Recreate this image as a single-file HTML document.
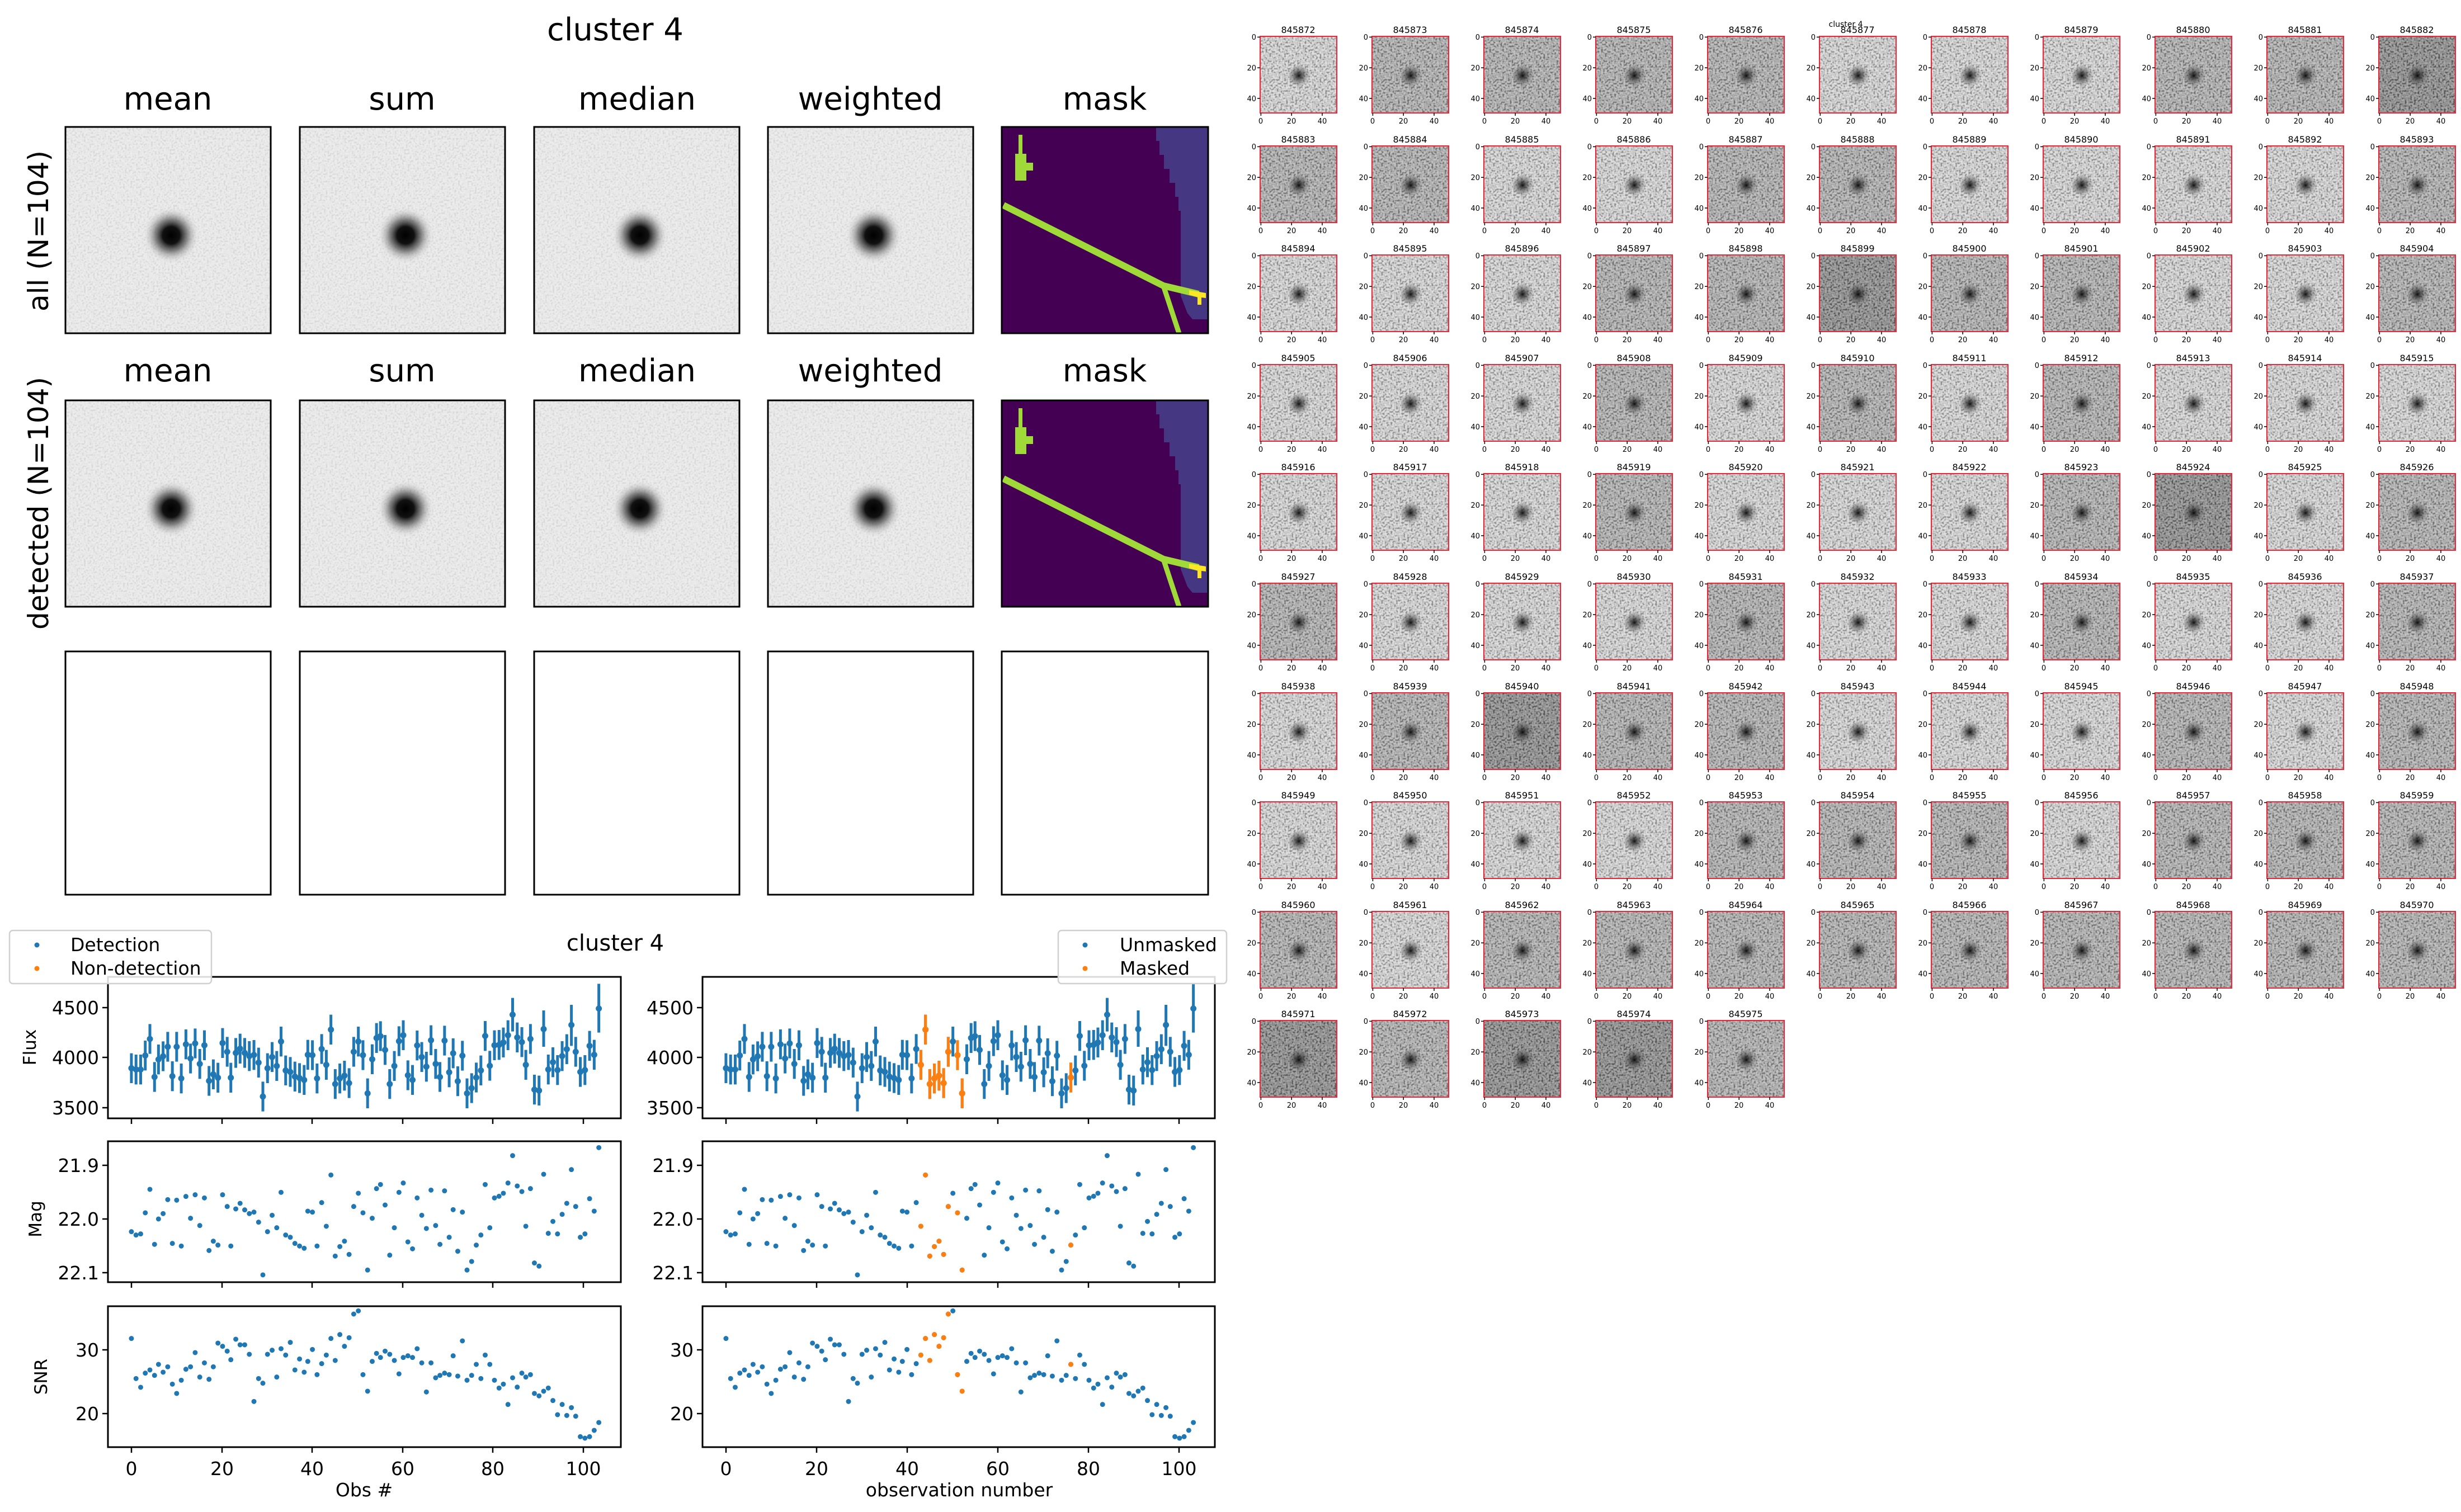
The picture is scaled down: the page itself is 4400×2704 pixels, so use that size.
<!DOCTYPE html>
<html><head><meta charset="utf-8"><style>
html,body{margin:0;padding:0;background:#fff}
svg{display:block}
text{font-family:"DejaVu Sans","Liberation Sans",sans-serif;fill:#000}
.a{font-size:16px;text-anchor:middle}
.b{font-size:13px;text-anchor:end}
.c{font-size:13px;text-anchor:middle}
.L{fill:#d2d2d2}.M{fill:#a6a6a6}.D{fill:#7e7e7e}
.tk{font-size:33px}
.ty{font-size:33px;text-anchor:end}
.tx{font-size:33px;text-anchor:middle}
.pt{font-size:56px;text-anchor:middle}
</style></head><body>
<svg width="4400" height="2704" viewBox="0 0 4400 2704" xmlns="http://www.w3.org/2000/svg">
<defs>
<filter id="nz" x="0" y="0" width="100%" height="100%">
<feTurbulence type="fractalNoise" baseFrequency="0.3" numOctaves="1" seed="4"/>
<feComponentTransfer><feFuncR type="linear" slope="3" intercept="-1"/></feComponentTransfer>
<feColorMatrix type="matrix" values="1 0 0 0 0 1 0 0 0 0 1 0 0 0 0 0 0 0 0 1"/>
</filter>
<radialGradient id="bl"><stop offset="0" stop-color="#000" stop-opacity=".9"/><stop offset=".4" stop-color="#222" stop-opacity=".55"/><stop offset="1" stop-color="#555" stop-opacity="0"/></radialGradient>
<radialGradient id="bb" cx=".515" cy=".525" r=".14"><stop offset="0" stop-color="#000"/><stop offset=".3" stop-color="#111"/><stop offset=".55" stop-color="#555" stop-opacity=".7"/><stop offset=".8" stop-color="#aaa" stop-opacity=".3"/><stop offset="1" stop-color="#eee" stop-opacity="0"/></radialGradient>
<g id="th"><rect width="137" height="137" filter="url(#nz)" opacity=".33"/><circle cx="69" cy="70" r="20" fill="url(#bl)"/><rect width="137" height="137" fill="none" stroke="#e8283a" stroke-width="2"/><path d="M1.4 137v5M56.2 137v5M111 137v5M0 1.4h-5M0 56.2h-5M0 111h-5" stroke="#000" stroke-width="1.5"/></g>
<g id="big"><rect width="367" height="369" fill="#ececec"/><rect width="367" height="369" filter="url(#nz)" opacity=".08"/><rect width="367" height="369" fill="url(#bb)"/><rect width="367" height="369" fill="none" stroke="#000" stroke-width="3"/></g>
<g id="mask"><rect width="369" height="369" fill="#440154"/>
<polygon points="272,0 369,0 369,344 341,344 332,333 320,302 320,150 316,150 316,125 310,125 310,100 300,100 300,75 290,75 290,50 282,50 282,25 276,25 276,0" fill="#453781"/>
<rect x="30" y="14" width="7" height="35" fill="#a0da39"/><rect x="24" y="48" width="20" height="48" fill="#a0da39"/><rect x="42" y="64" width="14" height="14" fill="#a0da39"/>
<polyline points="3,140 289,284 352,299" fill="none" stroke="#a0da39" stroke-width="12"/>
<polyline points="289,284 317,369" fill="none" stroke="#a0da39" stroke-width="9"/>
<polygon points="335,292 365,297 365,306 357,305 357,318 350,318 350,304 335,300" fill="#fde725"/>
<rect width="369" height="369" fill="none" stroke="#000" stroke-width="3"/></g>
<g id="fluxd">
<path fill="none" stroke="#1f77b4" stroke-width="5" vector-effect="non-scaling-stroke" d="M71 410v160M85 417v160M99 417v160M113 342v160M127 253v160M141 457v160M153 363v160M167 346v160M181 295v160M195 453v160M208 295v160M222 465v160M236 282v160M250 358v160M264 277v160M278 387v160M292 287v160M306 478v160M319 443v160M333 461v160M347 275v160M361 322v160M372 461v160M387 328v160M400 305v160M414 328v160M428 345v160M442 339v160M456 380v160M469 562v160M483 410v160M497 350v160M511 398v160M524 267v160M538 422v160M552 430v160M566 455v160M580 463v160M594 473v160M605 338v160M619 340v160M633 465v160M647 307v160M661 392v160M675 203v160M688 495v160M702 465v160M716 450v160M730 490v160M744 322v160M758 267v160M772 340v160M786 545v160M800 362v160M813 248v160M825 238v160M839 312v160M853 495v160M867 398v160M881 265v160M894 233v160M908 448v160M922 473v160M936 288v160M950 350v160M964 402v160M978 260v160M992 387v160M1005 457v160M1019 262v160M1033 432v160M1045 330v160M1059 480v160M1073 343v160M1087 545v160M1101 517v160M1115 460v160M1129 422v160M1142 237v160M1156 397v160M1170 287v160M1184 285v160M1197 272v160M1211 233v160M1225 113v180M1239 245v160M1253 270v160M1265 392v160M1279 253v160M1291 525v160M1305 530v160M1319 180v195M1333 417v160M1347 378v160M1361 420v160M1375 345v160M1389 308v160M1403 150v220M1416 322v160M1430 430v160M1444 420v160M1458 290v160M1472 338v160M1486 37v262"/>
<path fill="none" stroke="#1f77b4" stroke-width="11" stroke-linecap="round" vector-effect="non-scaling-stroke" d="M71 490h0M85 497h0M99 497h0M113 422h0M127 333h0M141 537h0M153 443h0M167 426h0M181 375h0M195 533h0M208 375h0M222 545h0M236 362h0M250 438h0M264 357h0M278 467h0M292 367h0M306 558h0M319 523h0M333 541h0M347 355h0M361 402h0M372 541h0M387 408h0M400 385h0M414 408h0M428 425h0M442 419h0M456 460h0M469 642h0M483 490h0M497 430h0M511 478h0M524 347h0M538 502h0M552 510h0M566 535h0M580 543h0M594 553h0M605 418h0M619 420h0M633 545h0M647 387h0M661 472h0M675 283h0M688 575h0M702 545h0M716 530h0M730 570h0M744 402h0M758 347h0M772 420h0M786 625h0M800 442h0M813 328h0M825 318h0M839 392h0M853 575h0M867 478h0M881 345h0M894 313h0M908 528h0M922 553h0M936 368h0M950 430h0M964 482h0M978 340h0M992 467h0M1005 537h0M1019 342h0M1033 512h0M1045 410h0M1059 560h0M1073 423h0M1087 625h0M1101 597h0M1115 540h0M1129 502h0M1142 317h0M1156 477h0M1170 367h0M1184 365h0M1197 352h0M1211 313h0M1225 203h0M1239 325h0M1253 350h0M1265 472h0M1279 333h0M1291 605h0M1305 610h0M1319 280h0M1333 497h0M1347 458h0M1361 500h0M1375 425h0M1389 388h0M1403 258h0M1416 402h0M1430 510h0M1444 500h0M1458 370h0M1472 418h0M1486 170h0"/>
</g>
<path id="magd" fill="none" stroke="#1f77b4" stroke-width="9" stroke-linecap="round" vector-effect="non-scaling-stroke" d="M71 488h0M85 506h0M99 500h0M113 387h0M127 261h0M141 556h0M153 420h0M167 391h0M181 316h0M195 551h0M208 319h0M222 565h0M236 299h0M250 416h0M264 290h0M278 455h0M292 307h0M306 589h0M319 539h0M333 560h0M347 290h0M361 353h0M372 565h0M387 366h0M400 336h0M414 371h0M428 391h0M442 383h0M456 437h0M469 720h0M483 488h0M497 400h0M511 467h0M524 277h0M538 506h0M552 518h0M566 551h0M580 565h0M594 577h0M605 378h0M619 383h0M633 565h0M647 332h0M661 459h0M675 184h0M688 619h0M702 568h0M716 539h0M730 610h0M744 353h0M758 282h0M772 387h0M786 694h0M800 416h0M813 257h0M825 235h0M839 345h0M853 614h0M867 467h0M881 277h0M894 227h0M908 543h0M922 580h0M936 307h0M950 400h0M964 471h0M978 265h0M992 455h0M1005 556h0M1019 269h0M1033 518h0M1045 370h0M1059 593h0M1073 383h0M1087 694h0M1101 648h0M1115 560h0M1129 506h0M1142 235h0M1156 467h0M1170 307h0M1184 298h0M1197 282h0M1211 227h0M1225 80h0M1239 243h0M1253 273h0M1265 459h0M1279 257h0M1291 656h0M1305 673h0M1319 180h0M1333 497h0M1347 433h0M1361 500h0M1375 395h0M1389 336h0M1403 155h0M1416 353h0M1430 518h0M1444 500h0M1458 311h0M1472 378h0M1486 37h0"/>
<path id="snrd" fill="none" stroke="#1f77b4" stroke-width="9" stroke-linecap="round" vector-effect="non-scaling-stroke" d="M71 176h0M85 391h0M99 438h0M113 362h0M127 345h0M141 374h0M153 315h0M167 357h0M181 328h0M195 421h0M208 471h0M222 400h0M236 341h0M250 328h0M264 252h0M278 383h0M292 307h0M306 395h0M319 328h0M333 201h0M347 218h0M361 244h0M372 290h0M387 180h0M400 210h0M414 210h0M428 261h0M442 514h0M456 391h0M469 416h0M483 261h0M497 239h0M511 383h0M524 231h0M538 265h0M552 197h0M566 345h0M580 286h0M594 357h0M605 299h0M619 235h0M633 370h0M647 311h0M661 265h0M675 176h0M688 294h0M702 155h0M716 218h0M730 172h0M744 45h0M758 28h0M772 370h0M786 459h0M800 299h0M813 256h0M825 278h0M839 244h0M853 261h0M867 294h0M881 366h0M894 278h0M908 269h0M922 278h0M936 231h0M950 307h0M964 463h0M978 307h0M992 387h0M1005 374h0M1019 362h0M1033 370h0M1045 269h0M1059 378h0M1073 189h0M1087 400h0M1101 374h0M1115 315h0M1129 391h0M1142 265h0M1156 315h0M1170 400h0M1184 442h0M1197 421h0M1211 530h0M1225 387h0M1239 437h0M1253 362h0M1265 383h0M1279 370h0M1291 471h0M1305 484h0M1319 459h0M1333 442h0M1347 509h0M1361 585h0M1375 530h0M1389 589h0M1403 547h0M1416 593h0M1430 703h0M1444 711h0M1458 703h0M1472 669h0M1486 627h0"/>
</defs>

<text x="1100" y="72" class="pt">cluster 4</text>
<text x="300" y="196" class="pt">mean</text><text x="719" y="196" class="pt">sum</text><text x="1139" y="196" class="pt">median</text><text x="1556" y="196" class="pt">weighted</text><text x="1975" y="196" class="pt">mask</text>
<text x="300" y="682" class="pt">mean</text><text x="719" y="682" class="pt">sum</text><text x="1139" y="682" class="pt">median</text><text x="1556" y="682" class="pt">weighted</text><text x="1975" y="682" class="pt">mask</text>
<text transform="translate(86,413) rotate(-90)" style="font-size:50px;text-anchor:middle">all (N=104)</text>
<text transform="translate(86,900) rotate(-90)" style="font-size:50px;text-anchor:middle">detected (N=104)</text>
<use href="#big" x="117" y="227"/><use href="#big" x="536" y="227"/><use href="#big" x="955" y="227"/><use href="#big" x="1373" y="227"/>
<use href="#mask" x="1791" y="227"/>
<use href="#big" x="117" y="716"/><use href="#big" x="536" y="716"/><use href="#big" x="955" y="716"/><use href="#big" x="1373" y="716"/>
<use href="#mask" x="1791" y="716"/>
<g fill="none" stroke="#000" stroke-width="3">
<rect x="117" y="1165" width="367" height="435"/><rect x="536" y="1165" width="367" height="435"/><rect x="955" y="1165" width="367" height="435"/><rect x="1373" y="1165" width="367" height="435"/><rect x="1791" y="1165" width="369" height="435"/>
</g>

<text x="1100" y="1700" style="font-size:40px;text-anchor:middle">cluster 4</text>
<g fill="#fff" stroke="#000" stroke-width="3">
<rect x="193" y="1747" width="917" height="253"/><rect x="193" y="2041" width="917" height="252"/><rect x="193" y="2336" width="917" height="252"/>
<rect x="1256" y="1747" width="916" height="253"/><rect x="1256" y="2041" width="916" height="252"/><rect x="1256" y="2336" width="916" height="252"/>
</g>
<g transform="translate(193,1747) scale(.5906,.3333)"><use href="#fluxd"/></g>
<g transform="translate(193,2040) scale(.5906,.3333)"><use href="#magd"/></g>
<g transform="translate(193,2335) scale(.5906,.3333)"><use href="#snrd"/></g>
<g transform="translate(1256,1747) scale(.5906,.3333)"><use href="#fluxd"/>
<path fill="none" stroke="#ff7f0e" stroke-width="5" vector-effect="non-scaling-stroke" d="M661 392v160M675 203v160M688 495v160M702 465v160M716 450v160M730 490v160M744 322v160M772 340v160M786 545v160M1115 460v160"/>
<path fill="none" stroke="#ff7f0e" stroke-width="11" stroke-linecap="round" vector-effect="non-scaling-stroke" d="M661 472h0M675 283h0M688 575h0M702 545h0M716 530h0M730 570h0M744 402h0M772 420h0M786 625h0M1115 540h0"/></g>
<g transform="translate(1256,2040) scale(.5906,.3333)"><use href="#magd"/>
<path fill="none" stroke="#ff7f0e" stroke-width="9" stroke-linecap="round" vector-effect="non-scaling-stroke" d="M661 459h0M675 184h0M688 619h0M702 568h0M716 539h0M730 610h0M744 353h0M772 387h0M786 694h0M1115 560h0"/></g>
<g transform="translate(1256,2335) scale(.5906,.3333)"><use href="#snrd"/>
<path fill="none" stroke="#ff7f0e" stroke-width="9" stroke-linecap="round" vector-effect="non-scaling-stroke" d="M661 265h0M675 176h0M688 294h0M702 155h0M716 218h0M730 172h0M744 45h0M772 370h0M786 459h0M1115 315h0"/></g>

<g stroke="#000" stroke-width="2.5">
<path d="M193 1802h-10M193 1891h-10M193 1981h-10M193 2084h-10M193 2180h-10M193 2276h-10M193 2414h-10M193 2528h-10"/>
<path d="M1256 1802h-10M1256 1891h-10M1256 1981h-10M1256 2084h-10M1256 2180h-10M1256 2276h-10M1256 2414h-10M1256 2528h-10"/>
<path d="M235 2000v10M397 2000v10M558 2000v10M720 2000v10M881 2000v10M1043 2000v10M235 2293v10M397 2293v10M558 2293v10M720 2293v10M881 2293v10M1043 2293v10M235 2588v10M397 2588v10M558 2588v10M720 2588v10M881 2588v10M1043 2588v10"/>
<path d="M1298 2000v10M1460 2000v10M1622 2000v10M1784 2000v10M1946 2000v10M2108 2000v10M1298 2293v10M1460 2293v10M1622 2293v10M1784 2293v10M1946 2293v10M2108 2293v10M1298 2588v10M1460 2588v10M1622 2588v10M1784 2588v10M1946 2588v10M2108 2588v10"/>
</g>
<text class="ty" x="177" y="1814">4500</text><text class="ty" x="177" y="1903">4000</text><text class="ty" x="177" y="1993">3500</text>
<text class="ty" x="177" y="2096">21.9</text><text class="ty" x="177" y="2192">22.0</text><text class="ty" x="177" y="2288">22.1</text>
<text class="ty" x="177" y="2426">30</text><text class="ty" x="177" y="2540">20</text>
<text class="ty" x="1240" y="1814">4500</text><text class="ty" x="1240" y="1903">4000</text><text class="ty" x="1240" y="1993">3500</text>
<text class="ty" x="1240" y="2096">21.9</text><text class="ty" x="1240" y="2192">22.0</text><text class="ty" x="1240" y="2288">22.1</text>
<text class="ty" x="1240" y="2426">30</text><text class="ty" x="1240" y="2540">20</text>
<text class="tx" x="235" y="2638">0</text><text class="tx" x="397" y="2638">20</text><text class="tx" x="558" y="2638">40</text><text class="tx" x="720" y="2638">60</text><text class="tx" x="881" y="2638">80</text><text class="tx" x="1043" y="2638">100</text>
<text class="tx" x="1298" y="2638">0</text><text class="tx" x="1460" y="2638">20</text><text class="tx" x="1622" y="2638">40</text><text class="tx" x="1784" y="2638">60</text><text class="tx" x="1946" y="2638">80</text><text class="tx" x="2108" y="2638">100</text>
<text class="tx" x="651" y="2676">Obs #</text><text class="tx" x="1715" y="2676">observation number</text>
<text transform="translate(64,1873) rotate(-90)" style="font-size:31px;text-anchor:middle">Flux</text>
<text transform="translate(74,2180) rotate(-90)" style="font-size:31px;text-anchor:middle">Mag</text>
<text transform="translate(84,2462) rotate(-90)" style="font-size:31px;text-anchor:middle">SNR</text>

<rect x="17" y="1664" width="361" height="95" rx="6" fill="#fff" fill-opacity=".85" stroke="#d0d0d0" stroke-width="2.5"/>
<circle cx="66" cy="1690" r="4.5" fill="#1f77b4"/><circle cx="66" cy="1732" r="4.5" fill="#ff7f0e"/>
<text class="tk" x="126" y="1701">Detection</text><text class="tk" x="126" y="1743">Non-detection</text>
<rect x="1892" y="1664" width="301" height="95" rx="6" fill="#fff" fill-opacity=".85" stroke="#d0d0d0" stroke-width="2.5"/>
<circle cx="1940" cy="1690" r="4.5" fill="#1f77b4"/><circle cx="1940" cy="1732" r="4.5" fill="#ff7f0e"/>
<text class="tk" x="2002" y="1701">Unmasked</text><text class="tk" x="2002" y="1743">Masked</text>

<text x="3300" y="48" style="font-size:14px;text-anchor:middle">cluster 4</text>
<g transform="translate(2253,65)"><rect width="137" height="137" class="L"/><use href="#th"/><text class="a" x="68" y="-6">845872</text><text class="b" x="-7" y="6">0</text><text class="b" x="-7" y="61">20</text><text class="b" x="-7" y="116">40</text><text class="c" x="1" y="156">0</text><text class="c" x="56" y="156">20</text><text class="c" x="111" y="156">40</text></g>
<g transform="translate(2453,65)"><rect width="137" height="137" class="M"/><use href="#th"/><text class="a" x="68" y="-6">845873</text><text class="b" x="-7" y="6">0</text><text class="b" x="-7" y="61">20</text><text class="b" x="-7" y="116">40</text><text class="c" x="1" y="156">0</text><text class="c" x="56" y="156">20</text><text class="c" x="111" y="156">40</text></g>
<g transform="translate(2653,65)"><rect width="137" height="137" class="M"/><use href="#th"/><text class="a" x="68" y="-6">845874</text><text class="b" x="-7" y="6">0</text><text class="b" x="-7" y="61">20</text><text class="b" x="-7" y="116">40</text><text class="c" x="1" y="156">0</text><text class="c" x="56" y="156">20</text><text class="c" x="111" y="156">40</text></g>
<g transform="translate(2853,65)"><rect width="137" height="137" class="M"/><use href="#th"/><text class="a" x="68" y="-6">845875</text><text class="b" x="-7" y="6">0</text><text class="b" x="-7" y="61">20</text><text class="b" x="-7" y="116">40</text><text class="c" x="1" y="156">0</text><text class="c" x="56" y="156">20</text><text class="c" x="111" y="156">40</text></g>
<g transform="translate(3053,65)"><rect width="137" height="137" class="M"/><use href="#th"/><text class="a" x="68" y="-6">845876</text><text class="b" x="-7" y="6">0</text><text class="b" x="-7" y="61">20</text><text class="b" x="-7" y="116">40</text><text class="c" x="1" y="156">0</text><text class="c" x="56" y="156">20</text><text class="c" x="111" y="156">40</text></g>
<g transform="translate(3253,65)"><rect width="137" height="137" class="L"/><use href="#th"/><text class="a" x="68" y="-6">845877</text><text class="b" x="-7" y="6">0</text><text class="b" x="-7" y="61">20</text><text class="b" x="-7" y="116">40</text><text class="c" x="1" y="156">0</text><text class="c" x="56" y="156">20</text><text class="c" x="111" y="156">40</text></g>
<g transform="translate(3453,65)"><rect width="137" height="137" class="L"/><use href="#th"/><text class="a" x="68" y="-6">845878</text><text class="b" x="-7" y="6">0</text><text class="b" x="-7" y="61">20</text><text class="b" x="-7" y="116">40</text><text class="c" x="1" y="156">0</text><text class="c" x="56" y="156">20</text><text class="c" x="111" y="156">40</text></g>
<g transform="translate(3653,65)"><rect width="137" height="137" class="L"/><use href="#th"/><text class="a" x="68" y="-6">845879</text><text class="b" x="-7" y="6">0</text><text class="b" x="-7" y="61">20</text><text class="b" x="-7" y="116">40</text><text class="c" x="1" y="156">0</text><text class="c" x="56" y="156">20</text><text class="c" x="111" y="156">40</text></g>
<g transform="translate(3853,65)"><rect width="137" height="137" class="M"/><use href="#th"/><text class="a" x="68" y="-6">845880</text><text class="b" x="-7" y="6">0</text><text class="b" x="-7" y="61">20</text><text class="b" x="-7" y="116">40</text><text class="c" x="1" y="156">0</text><text class="c" x="56" y="156">20</text><text class="c" x="111" y="156">40</text></g>
<g transform="translate(4053,65)"><rect width="137" height="137" class="M"/><use href="#th"/><text class="a" x="68" y="-6">845881</text><text class="b" x="-7" y="6">0</text><text class="b" x="-7" y="61">20</text><text class="b" x="-7" y="116">40</text><text class="c" x="1" y="156">0</text><text class="c" x="56" y="156">20</text><text class="c" x="111" y="156">40</text></g>
<g transform="translate(4253,65)"><rect width="137" height="137" class="D"/><use href="#th"/><text class="a" x="68" y="-6">845882</text><text class="b" x="-7" y="6">0</text><text class="b" x="-7" y="61">20</text><text class="b" x="-7" y="116">40</text><text class="c" x="1" y="156">0</text><text class="c" x="56" y="156">20</text><text class="c" x="111" y="156">40</text></g>

<g transform="translate(2253,261)"><rect width="137" height="137" class="M"/><use href="#th"/><text class="a" x="68" y="-6">845883</text><text class="b" x="-7" y="6">0</text><text class="b" x="-7" y="61">20</text><text class="b" x="-7" y="116">40</text><text class="c" x="1" y="156">0</text><text class="c" x="56" y="156">20</text><text class="c" x="111" y="156">40</text></g>
<g transform="translate(2453,261)"><rect width="137" height="137" class="M"/><use href="#th"/><text class="a" x="68" y="-6">845884</text><text class="b" x="-7" y="6">0</text><text class="b" x="-7" y="61">20</text><text class="b" x="-7" y="116">40</text><text class="c" x="1" y="156">0</text><text class="c" x="56" y="156">20</text><text class="c" x="111" y="156">40</text></g>
<g transform="translate(2653,261)"><rect width="137" height="137" class="L"/><use href="#th"/><text class="a" x="68" y="-6">845885</text><text class="b" x="-7" y="6">0</text><text class="b" x="-7" y="61">20</text><text class="b" x="-7" y="116">40</text><text class="c" x="1" y="156">0</text><text class="c" x="56" y="156">20</text><text class="c" x="111" y="156">40</text></g>
<g transform="translate(2853,261)"><rect width="137" height="137" class="L"/><use href="#th"/><text class="a" x="68" y="-6">845886</text><text class="b" x="-7" y="6">0</text><text class="b" x="-7" y="61">20</text><text class="b" x="-7" y="116">40</text><text class="c" x="1" y="156">0</text><text class="c" x="56" y="156">20</text><text class="c" x="111" y="156">40</text></g>
<g transform="translate(3053,261)"><rect width="137" height="137" class="M"/><use href="#th"/><text class="a" x="68" y="-6">845887</text><text class="b" x="-7" y="6">0</text><text class="b" x="-7" y="61">20</text><text class="b" x="-7" y="116">40</text><text class="c" x="1" y="156">0</text><text class="c" x="56" y="156">20</text><text class="c" x="111" y="156">40</text></g>
<g transform="translate(3253,261)"><rect width="137" height="137" class="M"/><use href="#th"/><text class="a" x="68" y="-6">845888</text><text class="b" x="-7" y="6">0</text><text class="b" x="-7" y="61">20</text><text class="b" x="-7" y="116">40</text><text class="c" x="1" y="156">0</text><text class="c" x="56" y="156">20</text><text class="c" x="111" y="156">40</text></g>
<g transform="translate(3453,261)"><rect width="137" height="137" class="L"/><use href="#th"/><text class="a" x="68" y="-6">845889</text><text class="b" x="-7" y="6">0</text><text class="b" x="-7" y="61">20</text><text class="b" x="-7" y="116">40</text><text class="c" x="1" y="156">0</text><text class="c" x="56" y="156">20</text><text class="c" x="111" y="156">40</text></g>
<g transform="translate(3653,261)"><rect width="137" height="137" class="L"/><use href="#th"/><text class="a" x="68" y="-6">845890</text><text class="b" x="-7" y="6">0</text><text class="b" x="-7" y="61">20</text><text class="b" x="-7" y="116">40</text><text class="c" x="1" y="156">0</text><text class="c" x="56" y="156">20</text><text class="c" x="111" y="156">40</text></g>
<g transform="translate(3853,261)"><rect width="137" height="137" class="L"/><use href="#th"/><text class="a" x="68" y="-6">845891</text><text class="b" x="-7" y="6">0</text><text class="b" x="-7" y="61">20</text><text class="b" x="-7" y="116">40</text><text class="c" x="1" y="156">0</text><text class="c" x="56" y="156">20</text><text class="c" x="111" y="156">40</text></g>
<g transform="translate(4053,261)"><rect width="137" height="137" class="L"/><use href="#th"/><text class="a" x="68" y="-6">845892</text><text class="b" x="-7" y="6">0</text><text class="b" x="-7" y="61">20</text><text class="b" x="-7" y="116">40</text><text class="c" x="1" y="156">0</text><text class="c" x="56" y="156">20</text><text class="c" x="111" y="156">40</text></g>
<g transform="translate(4253,261)"><rect width="137" height="137" class="M"/><use href="#th"/><text class="a" x="68" y="-6">845893</text><text class="b" x="-7" y="6">0</text><text class="b" x="-7" y="61">20</text><text class="b" x="-7" y="116">40</text><text class="c" x="1" y="156">0</text><text class="c" x="56" y="156">20</text><text class="c" x="111" y="156">40</text></g>

<g transform="translate(2253,456)"><rect width="137" height="137" class="L"/><use href="#th"/><text class="a" x="68" y="-6">845894</text><text class="b" x="-7" y="6">0</text><text class="b" x="-7" y="61">20</text><text class="b" x="-7" y="116">40</text><text class="c" x="1" y="156">0</text><text class="c" x="56" y="156">20</text><text class="c" x="111" y="156">40</text></g>
<g transform="translate(2453,456)"><rect width="137" height="137" class="L"/><use href="#th"/><text class="a" x="68" y="-6">845895</text><text class="b" x="-7" y="6">0</text><text class="b" x="-7" y="61">20</text><text class="b" x="-7" y="116">40</text><text class="c" x="1" y="156">0</text><text class="c" x="56" y="156">20</text><text class="c" x="111" y="156">40</text></g>
<g transform="translate(2653,456)"><rect width="137" height="137" class="L"/><use href="#th"/><text class="a" x="68" y="-6">845896</text><text class="b" x="-7" y="6">0</text><text class="b" x="-7" y="61">20</text><text class="b" x="-7" y="116">40</text><text class="c" x="1" y="156">0</text><text class="c" x="56" y="156">20</text><text class="c" x="111" y="156">40</text></g>
<g transform="translate(2853,456)"><rect width="137" height="137" class="M"/><use href="#th"/><text class="a" x="68" y="-6">845897</text><text class="b" x="-7" y="6">0</text><text class="b" x="-7" y="61">20</text><text class="b" x="-7" y="116">40</text><text class="c" x="1" y="156">0</text><text class="c" x="56" y="156">20</text><text class="c" x="111" y="156">40</text></g>
<g transform="translate(3053,456)"><rect width="137" height="137" class="M"/><use href="#th"/><text class="a" x="68" y="-6">845898</text><text class="b" x="-7" y="6">0</text><text class="b" x="-7" y="61">20</text><text class="b" x="-7" y="116">40</text><text class="c" x="1" y="156">0</text><text class="c" x="56" y="156">20</text><text class="c" x="111" y="156">40</text></g>
<g transform="translate(3253,456)"><rect width="137" height="137" class="D"/><use href="#th"/><text class="a" x="68" y="-6">845899</text><text class="b" x="-7" y="6">0</text><text class="b" x="-7" y="61">20</text><text class="b" x="-7" y="116">40</text><text class="c" x="1" y="156">0</text><text class="c" x="56" y="156">20</text><text class="c" x="111" y="156">40</text></g>
<g transform="translate(3453,456)"><rect width="137" height="137" class="M"/><use href="#th"/><text class="a" x="68" y="-6">845900</text><text class="b" x="-7" y="6">0</text><text class="b" x="-7" y="61">20</text><text class="b" x="-7" y="116">40</text><text class="c" x="1" y="156">0</text><text class="c" x="56" y="156">20</text><text class="c" x="111" y="156">40</text></g>
<g transform="translate(3653,456)"><rect width="137" height="137" class="M"/><use href="#th"/><text class="a" x="68" y="-6">845901</text><text class="b" x="-7" y="6">0</text><text class="b" x="-7" y="61">20</text><text class="b" x="-7" y="116">40</text><text class="c" x="1" y="156">0</text><text class="c" x="56" y="156">20</text><text class="c" x="111" y="156">40</text></g>
<g transform="translate(3853,456)"><rect width="137" height="137" class="L"/><use href="#th"/><text class="a" x="68" y="-6">845902</text><text class="b" x="-7" y="6">0</text><text class="b" x="-7" y="61">20</text><text class="b" x="-7" y="116">40</text><text class="c" x="1" y="156">0</text><text class="c" x="56" y="156">20</text><text class="c" x="111" y="156">40</text></g>
<g transform="translate(4053,456)"><rect width="137" height="137" class="L"/><use href="#th"/><text class="a" x="68" y="-6">845903</text><text class="b" x="-7" y="6">0</text><text class="b" x="-7" y="61">20</text><text class="b" x="-7" y="116">40</text><text class="c" x="1" y="156">0</text><text class="c" x="56" y="156">20</text><text class="c" x="111" y="156">40</text></g>
<g transform="translate(4253,456)"><rect width="137" height="137" class="M"/><use href="#th"/><text class="a" x="68" y="-6">845904</text><text class="b" x="-7" y="6">0</text><text class="b" x="-7" y="61">20</text><text class="b" x="-7" y="116">40</text><text class="c" x="1" y="156">0</text><text class="c" x="56" y="156">20</text><text class="c" x="111" y="156">40</text></g>

<g transform="translate(2253,652)"><rect width="137" height="137" class="L"/><use href="#th"/><text class="a" x="68" y="-6">845905</text><text class="b" x="-7" y="6">0</text><text class="b" x="-7" y="61">20</text><text class="b" x="-7" y="116">40</text><text class="c" x="1" y="156">0</text><text class="c" x="56" y="156">20</text><text class="c" x="111" y="156">40</text></g>
<g transform="translate(2453,652)"><rect width="137" height="137" class="L"/><use href="#th"/><text class="a" x="68" y="-6">845906</text><text class="b" x="-7" y="6">0</text><text class="b" x="-7" y="61">20</text><text class="b" x="-7" y="116">40</text><text class="c" x="1" y="156">0</text><text class="c" x="56" y="156">20</text><text class="c" x="111" y="156">40</text></g>
<g transform="translate(2653,652)"><rect width="137" height="137" class="L"/><use href="#th"/><text class="a" x="68" y="-6">845907</text><text class="b" x="-7" y="6">0</text><text class="b" x="-7" y="61">20</text><text class="b" x="-7" y="116">40</text><text class="c" x="1" y="156">0</text><text class="c" x="56" y="156">20</text><text class="c" x="111" y="156">40</text></g>
<g transform="translate(2853,652)"><rect width="137" height="137" class="M"/><use href="#th"/><text class="a" x="68" y="-6">845908</text><text class="b" x="-7" y="6">0</text><text class="b" x="-7" y="61">20</text><text class="b" x="-7" y="116">40</text><text class="c" x="1" y="156">0</text><text class="c" x="56" y="156">20</text><text class="c" x="111" y="156">40</text></g>
<g transform="translate(3053,652)"><rect width="137" height="137" class="L"/><use href="#th"/><text class="a" x="68" y="-6">845909</text><text class="b" x="-7" y="6">0</text><text class="b" x="-7" y="61">20</text><text class="b" x="-7" y="116">40</text><text class="c" x="1" y="156">0</text><text class="c" x="56" y="156">20</text><text class="c" x="111" y="156">40</text></g>
<g transform="translate(3253,652)"><rect width="137" height="137" class="M"/><use href="#th"/><text class="a" x="68" y="-6">845910</text><text class="b" x="-7" y="6">0</text><text class="b" x="-7" y="61">20</text><text class="b" x="-7" y="116">40</text><text class="c" x="1" y="156">0</text><text class="c" x="56" y="156">20</text><text class="c" x="111" y="156">40</text></g>
<g transform="translate(3453,652)"><rect width="137" height="137" class="L"/><use href="#th"/><text class="a" x="68" y="-6">845911</text><text class="b" x="-7" y="6">0</text><text class="b" x="-7" y="61">20</text><text class="b" x="-7" y="116">40</text><text class="c" x="1" y="156">0</text><text class="c" x="56" y="156">20</text><text class="c" x="111" y="156">40</text></g>
<g transform="translate(3653,652)"><rect width="137" height="137" class="M"/><use href="#th"/><text class="a" x="68" y="-6">845912</text><text class="b" x="-7" y="6">0</text><text class="b" x="-7" y="61">20</text><text class="b" x="-7" y="116">40</text><text class="c" x="1" y="156">0</text><text class="c" x="56" y="156">20</text><text class="c" x="111" y="156">40</text></g>
<g transform="translate(3853,652)"><rect width="137" height="137" class="L"/><use href="#th"/><text class="a" x="68" y="-6">845913</text><text class="b" x="-7" y="6">0</text><text class="b" x="-7" y="61">20</text><text class="b" x="-7" y="116">40</text><text class="c" x="1" y="156">0</text><text class="c" x="56" y="156">20</text><text class="c" x="111" y="156">40</text></g>
<g transform="translate(4053,652)"><rect width="137" height="137" class="L"/><use href="#th"/><text class="a" x="68" y="-6">845914</text><text class="b" x="-7" y="6">0</text><text class="b" x="-7" y="61">20</text><text class="b" x="-7" y="116">40</text><text class="c" x="1" y="156">0</text><text class="c" x="56" y="156">20</text><text class="c" x="111" y="156">40</text></g>
<g transform="translate(4253,652)"><rect width="137" height="137" class="L"/><use href="#th"/><text class="a" x="68" y="-6">845915</text><text class="b" x="-7" y="6">0</text><text class="b" x="-7" y="61">20</text><text class="b" x="-7" y="116">40</text><text class="c" x="1" y="156">0</text><text class="c" x="56" y="156">20</text><text class="c" x="111" y="156">40</text></g>

<g transform="translate(2253,847)"><rect width="137" height="137" class="L"/><use href="#th"/><text class="a" x="68" y="-6">845916</text><text class="b" x="-7" y="6">0</text><text class="b" x="-7" y="61">20</text><text class="b" x="-7" y="116">40</text><text class="c" x="1" y="156">0</text><text class="c" x="56" y="156">20</text><text class="c" x="111" y="156">40</text></g>
<g transform="translate(2453,847)"><rect width="137" height="137" class="L"/><use href="#th"/><text class="a" x="68" y="-6">845917</text><text class="b" x="-7" y="6">0</text><text class="b" x="-7" y="61">20</text><text class="b" x="-7" y="116">40</text><text class="c" x="1" y="156">0</text><text class="c" x="56" y="156">20</text><text class="c" x="111" y="156">40</text></g>
<g transform="translate(2653,847)"><rect width="137" height="137" class="L"/><use href="#th"/><text class="a" x="68" y="-6">845918</text><text class="b" x="-7" y="6">0</text><text class="b" x="-7" y="61">20</text><text class="b" x="-7" y="116">40</text><text class="c" x="1" y="156">0</text><text class="c" x="56" y="156">20</text><text class="c" x="111" y="156">40</text></g>
<g transform="translate(2853,847)"><rect width="137" height="137" class="M"/><use href="#th"/><text class="a" x="68" y="-6">845919</text><text class="b" x="-7" y="6">0</text><text class="b" x="-7" y="61">20</text><text class="b" x="-7" y="116">40</text><text class="c" x="1" y="156">0</text><text class="c" x="56" y="156">20</text><text class="c" x="111" y="156">40</text></g>
<g transform="translate(3053,847)"><rect width="137" height="137" class="L"/><use href="#th"/><text class="a" x="68" y="-6">845920</text><text class="b" x="-7" y="6">0</text><text class="b" x="-7" y="61">20</text><text class="b" x="-7" y="116">40</text><text class="c" x="1" y="156">0</text><text class="c" x="56" y="156">20</text><text class="c" x="111" y="156">40</text></g>
<g transform="translate(3253,847)"><rect width="137" height="137" class="L"/><use href="#th"/><text class="a" x="68" y="-6">845921</text><text class="b" x="-7" y="6">0</text><text class="b" x="-7" y="61">20</text><text class="b" x="-7" y="116">40</text><text class="c" x="1" y="156">0</text><text class="c" x="56" y="156">20</text><text class="c" x="111" y="156">40</text></g>
<g transform="translate(3453,847)"><rect width="137" height="137" class="L"/><use href="#th"/><text class="a" x="68" y="-6">845922</text><text class="b" x="-7" y="6">0</text><text class="b" x="-7" y="61">20</text><text class="b" x="-7" y="116">40</text><text class="c" x="1" y="156">0</text><text class="c" x="56" y="156">20</text><text class="c" x="111" y="156">40</text></g>
<g transform="translate(3653,847)"><rect width="137" height="137" class="M"/><use href="#th"/><text class="a" x="68" y="-6">845923</text><text class="b" x="-7" y="6">0</text><text class="b" x="-7" y="61">20</text><text class="b" x="-7" y="116">40</text><text class="c" x="1" y="156">0</text><text class="c" x="56" y="156">20</text><text class="c" x="111" y="156">40</text></g>
<g transform="translate(3853,847)"><rect width="137" height="137" class="D"/><use href="#th"/><text class="a" x="68" y="-6">845924</text><text class="b" x="-7" y="6">0</text><text class="b" x="-7" y="61">20</text><text class="b" x="-7" y="116">40</text><text class="c" x="1" y="156">0</text><text class="c" x="56" y="156">20</text><text class="c" x="111" y="156">40</text></g>
<g transform="translate(4053,847)"><rect width="137" height="137" class="L"/><use href="#th"/><text class="a" x="68" y="-6">845925</text><text class="b" x="-7" y="6">0</text><text class="b" x="-7" y="61">20</text><text class="b" x="-7" y="116">40</text><text class="c" x="1" y="156">0</text><text class="c" x="56" y="156">20</text><text class="c" x="111" y="156">40</text></g>
<g transform="translate(4253,847)"><rect width="137" height="137" class="M"/><use href="#th"/><text class="a" x="68" y="-6">845926</text><text class="b" x="-7" y="6">0</text><text class="b" x="-7" y="61">20</text><text class="b" x="-7" y="116">40</text><text class="c" x="1" y="156">0</text><text class="c" x="56" y="156">20</text><text class="c" x="111" y="156">40</text></g>

<g transform="translate(2253,1043)"><rect width="137" height="137" class="M"/><use href="#th"/><text class="a" x="68" y="-6">845927</text><text class="b" x="-7" y="6">0</text><text class="b" x="-7" y="61">20</text><text class="b" x="-7" y="116">40</text><text class="c" x="1" y="156">0</text><text class="c" x="56" y="156">20</text><text class="c" x="111" y="156">40</text></g>
<g transform="translate(2453,1043)"><rect width="137" height="137" class="L"/><use href="#th"/><text class="a" x="68" y="-6">845928</text><text class="b" x="-7" y="6">0</text><text class="b" x="-7" y="61">20</text><text class="b" x="-7" y="116">40</text><text class="c" x="1" y="156">0</text><text class="c" x="56" y="156">20</text><text class="c" x="111" y="156">40</text></g>
<g transform="translate(2653,1043)"><rect width="137" height="137" class="L"/><use href="#th"/><text class="a" x="68" y="-6">845929</text><text class="b" x="-7" y="6">0</text><text class="b" x="-7" y="61">20</text><text class="b" x="-7" y="116">40</text><text class="c" x="1" y="156">0</text><text class="c" x="56" y="156">20</text><text class="c" x="111" y="156">40</text></g>
<g transform="translate(2853,1043)"><rect width="137" height="137" class="L"/><use href="#th"/><text class="a" x="68" y="-6">845930</text><text class="b" x="-7" y="6">0</text><text class="b" x="-7" y="61">20</text><text class="b" x="-7" y="116">40</text><text class="c" x="1" y="156">0</text><text class="c" x="56" y="156">20</text><text class="c" x="111" y="156">40</text></g>
<g transform="translate(3053,1043)"><rect width="137" height="137" class="M"/><use href="#th"/><text class="a" x="68" y="-6">845931</text><text class="b" x="-7" y="6">0</text><text class="b" x="-7" y="61">20</text><text class="b" x="-7" y="116">40</text><text class="c" x="1" y="156">0</text><text class="c" x="56" y="156">20</text><text class="c" x="111" y="156">40</text></g>
<g transform="translate(3253,1043)"><rect width="137" height="137" class="L"/><use href="#th"/><text class="a" x="68" y="-6">845932</text><text class="b" x="-7" y="6">0</text><text class="b" x="-7" y="61">20</text><text class="b" x="-7" y="116">40</text><text class="c" x="1" y="156">0</text><text class="c" x="56" y="156">20</text><text class="c" x="111" y="156">40</text></g>
<g transform="translate(3453,1043)"><rect width="137" height="137" class="L"/><use href="#th"/><text class="a" x="68" y="-6">845933</text><text class="b" x="-7" y="6">0</text><text class="b" x="-7" y="61">20</text><text class="b" x="-7" y="116">40</text><text class="c" x="1" y="156">0</text><text class="c" x="56" y="156">20</text><text class="c" x="111" y="156">40</text></g>
<g transform="translate(3653,1043)"><rect width="137" height="137" class="M"/><use href="#th"/><text class="a" x="68" y="-6">845934</text><text class="b" x="-7" y="6">0</text><text class="b" x="-7" y="61">20</text><text class="b" x="-7" y="116">40</text><text class="c" x="1" y="156">0</text><text class="c" x="56" y="156">20</text><text class="c" x="111" y="156">40</text></g>
<g transform="translate(3853,1043)"><rect width="137" height="137" class="L"/><use href="#th"/><text class="a" x="68" y="-6">845935</text><text class="b" x="-7" y="6">0</text><text class="b" x="-7" y="61">20</text><text class="b" x="-7" y="116">40</text><text class="c" x="1" y="156">0</text><text class="c" x="56" y="156">20</text><text class="c" x="111" y="156">40</text></g>
<g transform="translate(4053,1043)"><rect width="137" height="137" class="L"/><use href="#th"/><text class="a" x="68" y="-6">845936</text><text class="b" x="-7" y="6">0</text><text class="b" x="-7" y="61">20</text><text class="b" x="-7" y="116">40</text><text class="c" x="1" y="156">0</text><text class="c" x="56" y="156">20</text><text class="c" x="111" y="156">40</text></g>
<g transform="translate(4253,1043)"><rect width="137" height="137" class="M"/><use href="#th"/><text class="a" x="68" y="-6">845937</text><text class="b" x="-7" y="6">0</text><text class="b" x="-7" y="61">20</text><text class="b" x="-7" y="116">40</text><text class="c" x="1" y="156">0</text><text class="c" x="56" y="156">20</text><text class="c" x="111" y="156">40</text></g>

<g transform="translate(2253,1239)"><rect width="137" height="137" class="L"/><use href="#th"/><text class="a" x="68" y="-6">845938</text><text class="b" x="-7" y="6">0</text><text class="b" x="-7" y="61">20</text><text class="b" x="-7" y="116">40</text><text class="c" x="1" y="156">0</text><text class="c" x="56" y="156">20</text><text class="c" x="111" y="156">40</text></g>
<g transform="translate(2453,1239)"><rect width="137" height="137" class="M"/><use href="#th"/><text class="a" x="68" y="-6">845939</text><text class="b" x="-7" y="6">0</text><text class="b" x="-7" y="61">20</text><text class="b" x="-7" y="116">40</text><text class="c" x="1" y="156">0</text><text class="c" x="56" y="156">20</text><text class="c" x="111" y="156">40</text></g>
<g transform="translate(2653,1239)"><rect width="137" height="137" class="D"/><use href="#th"/><text class="a" x="68" y="-6">845940</text><text class="b" x="-7" y="6">0</text><text class="b" x="-7" y="61">20</text><text class="b" x="-7" y="116">40</text><text class="c" x="1" y="156">0</text><text class="c" x="56" y="156">20</text><text class="c" x="111" y="156">40</text></g>
<g transform="translate(2853,1239)"><rect width="137" height="137" class="M"/><use href="#th"/><text class="a" x="68" y="-6">845941</text><text class="b" x="-7" y="6">0</text><text class="b" x="-7" y="61">20</text><text class="b" x="-7" y="116">40</text><text class="c" x="1" y="156">0</text><text class="c" x="56" y="156">20</text><text class="c" x="111" y="156">40</text></g>
<g transform="translate(3053,1239)"><rect width="137" height="137" class="M"/><use href="#th"/><text class="a" x="68" y="-6">845942</text><text class="b" x="-7" y="6">0</text><text class="b" x="-7" y="61">20</text><text class="b" x="-7" y="116">40</text><text class="c" x="1" y="156">0</text><text class="c" x="56" y="156">20</text><text class="c" x="111" y="156">40</text></g>
<g transform="translate(3253,1239)"><rect width="137" height="137" class="L"/><use href="#th"/><text class="a" x="68" y="-6">845943</text><text class="b" x="-7" y="6">0</text><text class="b" x="-7" y="61">20</text><text class="b" x="-7" y="116">40</text><text class="c" x="1" y="156">0</text><text class="c" x="56" y="156">20</text><text class="c" x="111" y="156">40</text></g>
<g transform="translate(3453,1239)"><rect width="137" height="137" class="L"/><use href="#th"/><text class="a" x="68" y="-6">845944</text><text class="b" x="-7" y="6">0</text><text class="b" x="-7" y="61">20</text><text class="b" x="-7" y="116">40</text><text class="c" x="1" y="156">0</text><text class="c" x="56" y="156">20</text><text class="c" x="111" y="156">40</text></g>
<g transform="translate(3653,1239)"><rect width="137" height="137" class="L"/><use href="#th"/><text class="a" x="68" y="-6">845945</text><text class="b" x="-7" y="6">0</text><text class="b" x="-7" y="61">20</text><text class="b" x="-7" y="116">40</text><text class="c" x="1" y="156">0</text><text class="c" x="56" y="156">20</text><text class="c" x="111" y="156">40</text></g>
<g transform="translate(3853,1239)"><rect width="137" height="137" class="M"/><use href="#th"/><text class="a" x="68" y="-6">845946</text><text class="b" x="-7" y="6">0</text><text class="b" x="-7" y="61">20</text><text class="b" x="-7" y="116">40</text><text class="c" x="1" y="156">0</text><text class="c" x="56" y="156">20</text><text class="c" x="111" y="156">40</text></g>
<g transform="translate(4053,1239)"><rect width="137" height="137" class="L"/><use href="#th"/><text class="a" x="68" y="-6">845947</text><text class="b" x="-7" y="6">0</text><text class="b" x="-7" y="61">20</text><text class="b" x="-7" y="116">40</text><text class="c" x="1" y="156">0</text><text class="c" x="56" y="156">20</text><text class="c" x="111" y="156">40</text></g>
<g transform="translate(4253,1239)"><rect width="137" height="137" class="M"/><use href="#th"/><text class="a" x="68" y="-6">845948</text><text class="b" x="-7" y="6">0</text><text class="b" x="-7" y="61">20</text><text class="b" x="-7" y="116">40</text><text class="c" x="1" y="156">0</text><text class="c" x="56" y="156">20</text><text class="c" x="111" y="156">40</text></g>

<g transform="translate(2253,1434)"><rect width="137" height="137" class="L"/><use href="#th"/><text class="a" x="68" y="-6">845949</text><text class="b" x="-7" y="6">0</text><text class="b" x="-7" y="61">20</text><text class="b" x="-7" y="116">40</text><text class="c" x="1" y="156">0</text><text class="c" x="56" y="156">20</text><text class="c" x="111" y="156">40</text></g>
<g transform="translate(2453,1434)"><rect width="137" height="137" class="L"/><use href="#th"/><text class="a" x="68" y="-6">845950</text><text class="b" x="-7" y="6">0</text><text class="b" x="-7" y="61">20</text><text class="b" x="-7" y="116">40</text><text class="c" x="1" y="156">0</text><text class="c" x="56" y="156">20</text><text class="c" x="111" y="156">40</text></g>
<g transform="translate(2653,1434)"><rect width="137" height="137" class="L"/><use href="#th"/><text class="a" x="68" y="-6">845951</text><text class="b" x="-7" y="6">0</text><text class="b" x="-7" y="61">20</text><text class="b" x="-7" y="116">40</text><text class="c" x="1" y="156">0</text><text class="c" x="56" y="156">20</text><text class="c" x="111" y="156">40</text></g>
<g transform="translate(2853,1434)"><rect width="137" height="137" class="L"/><use href="#th"/><text class="a" x="68" y="-6">845952</text><text class="b" x="-7" y="6">0</text><text class="b" x="-7" y="61">20</text><text class="b" x="-7" y="116">40</text><text class="c" x="1" y="156">0</text><text class="c" x="56" y="156">20</text><text class="c" x="111" y="156">40</text></g>
<g transform="translate(3053,1434)"><rect width="137" height="137" class="M"/><use href="#th"/><text class="a" x="68" y="-6">845953</text><text class="b" x="-7" y="6">0</text><text class="b" x="-7" y="61">20</text><text class="b" x="-7" y="116">40</text><text class="c" x="1" y="156">0</text><text class="c" x="56" y="156">20</text><text class="c" x="111" y="156">40</text></g>
<g transform="translate(3253,1434)"><rect width="137" height="137" class="M"/><use href="#th"/><text class="a" x="68" y="-6">845954</text><text class="b" x="-7" y="6">0</text><text class="b" x="-7" y="61">20</text><text class="b" x="-7" y="116">40</text><text class="c" x="1" y="156">0</text><text class="c" x="56" y="156">20</text><text class="c" x="111" y="156">40</text></g>
<g transform="translate(3453,1434)"><rect width="137" height="137" class="M"/><use href="#th"/><text class="a" x="68" y="-6">845955</text><text class="b" x="-7" y="6">0</text><text class="b" x="-7" y="61">20</text><text class="b" x="-7" y="116">40</text><text class="c" x="1" y="156">0</text><text class="c" x="56" y="156">20</text><text class="c" x="111" y="156">40</text></g>
<g transform="translate(3653,1434)"><rect width="137" height="137" class="L"/><use href="#th"/><text class="a" x="68" y="-6">845956</text><text class="b" x="-7" y="6">0</text><text class="b" x="-7" y="61">20</text><text class="b" x="-7" y="116">40</text><text class="c" x="1" y="156">0</text><text class="c" x="56" y="156">20</text><text class="c" x="111" y="156">40</text></g>
<g transform="translate(3853,1434)"><rect width="137" height="137" class="M"/><use href="#th"/><text class="a" x="68" y="-6">845957</text><text class="b" x="-7" y="6">0</text><text class="b" x="-7" y="61">20</text><text class="b" x="-7" y="116">40</text><text class="c" x="1" y="156">0</text><text class="c" x="56" y="156">20</text><text class="c" x="111" y="156">40</text></g>
<g transform="translate(4053,1434)"><rect width="137" height="137" class="M"/><use href="#th"/><text class="a" x="68" y="-6">845958</text><text class="b" x="-7" y="6">0</text><text class="b" x="-7" y="61">20</text><text class="b" x="-7" y="116">40</text><text class="c" x="1" y="156">0</text><text class="c" x="56" y="156">20</text><text class="c" x="111" y="156">40</text></g>
<g transform="translate(4253,1434)"><rect width="137" height="137" class="M"/><use href="#th"/><text class="a" x="68" y="-6">845959</text><text class="b" x="-7" y="6">0</text><text class="b" x="-7" y="61">20</text><text class="b" x="-7" y="116">40</text><text class="c" x="1" y="156">0</text><text class="c" x="56" y="156">20</text><text class="c" x="111" y="156">40</text></g>

<g transform="translate(2253,1630)"><rect width="137" height="137" class="M"/><use href="#th"/><text class="a" x="68" y="-6">845960</text><text class="b" x="-7" y="6">0</text><text class="b" x="-7" y="61">20</text><text class="b" x="-7" y="116">40</text><text class="c" x="1" y="156">0</text><text class="c" x="56" y="156">20</text><text class="c" x="111" y="156">40</text></g>
<g transform="translate(2453,1630)"><rect width="137" height="137" class="L"/><use href="#th"/><text class="a" x="68" y="-6">845961</text><text class="b" x="-7" y="6">0</text><text class="b" x="-7" y="61">20</text><text class="b" x="-7" y="116">40</text><text class="c" x="1" y="156">0</text><text class="c" x="56" y="156">20</text><text class="c" x="111" y="156">40</text></g>
<g transform="translate(2653,1630)"><rect width="137" height="137" class="M"/><use href="#th"/><text class="a" x="68" y="-6">845962</text><text class="b" x="-7" y="6">0</text><text class="b" x="-7" y="61">20</text><text class="b" x="-7" y="116">40</text><text class="c" x="1" y="156">0</text><text class="c" x="56" y="156">20</text><text class="c" x="111" y="156">40</text></g>
<g transform="translate(2853,1630)"><rect width="137" height="137" class="M"/><use href="#th"/><text class="a" x="68" y="-6">845963</text><text class="b" x="-7" y="6">0</text><text class="b" x="-7" y="61">20</text><text class="b" x="-7" y="116">40</text><text class="c" x="1" y="156">0</text><text class="c" x="56" y="156">20</text><text class="c" x="111" y="156">40</text></g>
<g transform="translate(3053,1630)"><rect width="137" height="137" class="M"/><use href="#th"/><text class="a" x="68" y="-6">845964</text><text class="b" x="-7" y="6">0</text><text class="b" x="-7" y="61">20</text><text class="b" x="-7" y="116">40</text><text class="c" x="1" y="156">0</text><text class="c" x="56" y="156">20</text><text class="c" x="111" y="156">40</text></g>
<g transform="translate(3253,1630)"><rect width="137" height="137" class="M"/><use href="#th"/><text class="a" x="68" y="-6">845965</text><text class="b" x="-7" y="6">0</text><text class="b" x="-7" y="61">20</text><text class="b" x="-7" y="116">40</text><text class="c" x="1" y="156">0</text><text class="c" x="56" y="156">20</text><text class="c" x="111" y="156">40</text></g>
<g transform="translate(3453,1630)"><rect width="137" height="137" class="M"/><use href="#th"/><text class="a" x="68" y="-6">845966</text><text class="b" x="-7" y="6">0</text><text class="b" x="-7" y="61">20</text><text class="b" x="-7" y="116">40</text><text class="c" x="1" y="156">0</text><text class="c" x="56" y="156">20</text><text class="c" x="111" y="156">40</text></g>
<g transform="translate(3653,1630)"><rect width="137" height="137" class="M"/><use href="#th"/><text class="a" x="68" y="-6">845967</text><text class="b" x="-7" y="6">0</text><text class="b" x="-7" y="61">20</text><text class="b" x="-7" y="116">40</text><text class="c" x="1" y="156">0</text><text class="c" x="56" y="156">20</text><text class="c" x="111" y="156">40</text></g>
<g transform="translate(3853,1630)"><rect width="137" height="137" class="M"/><use href="#th"/><text class="a" x="68" y="-6">845968</text><text class="b" x="-7" y="6">0</text><text class="b" x="-7" y="61">20</text><text class="b" x="-7" y="116">40</text><text class="c" x="1" y="156">0</text><text class="c" x="56" y="156">20</text><text class="c" x="111" y="156">40</text></g>
<g transform="translate(4053,1630)"><rect width="137" height="137" class="M"/><use href="#th"/><text class="a" x="68" y="-6">845969</text><text class="b" x="-7" y="6">0</text><text class="b" x="-7" y="61">20</text><text class="b" x="-7" y="116">40</text><text class="c" x="1" y="156">0</text><text class="c" x="56" y="156">20</text><text class="c" x="111" y="156">40</text></g>
<g transform="translate(4253,1630)"><rect width="137" height="137" class="M"/><use href="#th"/><text class="a" x="68" y="-6">845970</text><text class="b" x="-7" y="6">0</text><text class="b" x="-7" y="61">20</text><text class="b" x="-7" y="116">40</text><text class="c" x="1" y="156">0</text><text class="c" x="56" y="156">20</text><text class="c" x="111" y="156">40</text></g>

<g transform="translate(2253,1825)"><rect width="137" height="137" class="D"/><use href="#th"/><text class="a" x="68" y="-6">845971</text><text class="b" x="-7" y="6">0</text><text class="b" x="-7" y="61">20</text><text class="b" x="-7" y="116">40</text><text class="c" x="1" y="156">0</text><text class="c" x="56" y="156">20</text><text class="c" x="111" y="156">40</text></g>
<g transform="translate(2453,1825)"><rect width="137" height="137" class="M"/><use href="#th"/><text class="a" x="68" y="-6">845972</text><text class="b" x="-7" y="6">0</text><text class="b" x="-7" y="61">20</text><text class="b" x="-7" y="116">40</text><text class="c" x="1" y="156">0</text><text class="c" x="56" y="156">20</text><text class="c" x="111" y="156">40</text></g>
<g transform="translate(2653,1825)"><rect width="137" height="137" class="D"/><use href="#th"/><text class="a" x="68" y="-6">845973</text><text class="b" x="-7" y="6">0</text><text class="b" x="-7" y="61">20</text><text class="b" x="-7" y="116">40</text><text class="c" x="1" y="156">0</text><text class="c" x="56" y="156">20</text><text class="c" x="111" y="156">40</text></g>
<g transform="translate(2853,1825)"><rect width="137" height="137" class="D"/><use href="#th"/><text class="a" x="68" y="-6">845974</text><text class="b" x="-7" y="6">0</text><text class="b" x="-7" y="61">20</text><text class="b" x="-7" y="116">40</text><text class="c" x="1" y="156">0</text><text class="c" x="56" y="156">20</text><text class="c" x="111" y="156">40</text></g>
<g transform="translate(3053,1825)"><rect width="137" height="137" class="M"/><use href="#th"/><text class="a" x="68" y="-6">845975</text><text class="b" x="-7" y="6">0</text><text class="b" x="-7" y="61">20</text><text class="b" x="-7" y="116">40</text><text class="c" x="1" y="156">0</text><text class="c" x="56" y="156">20</text><text class="c" x="111" y="156">40</text></g>
</svg>
</body></html>
